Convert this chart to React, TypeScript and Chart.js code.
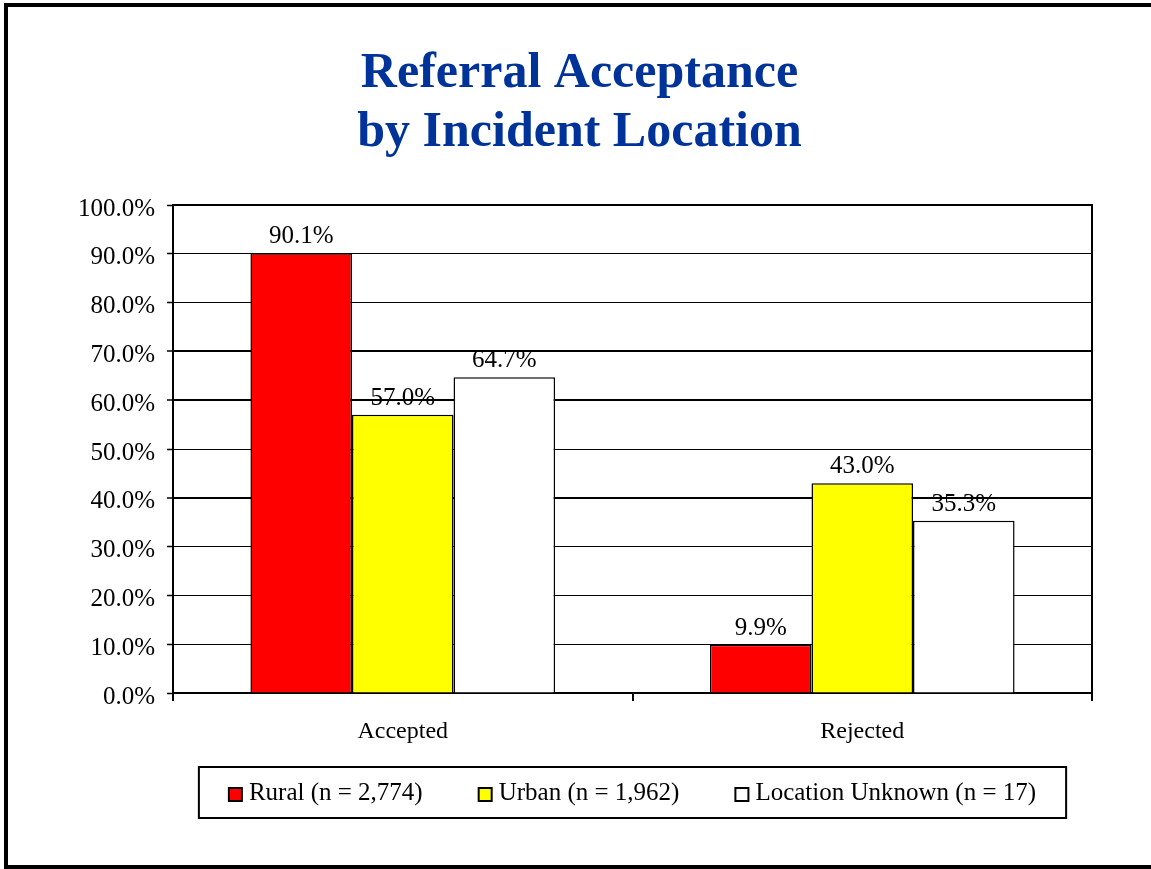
import React, { useEffect, useRef } from "react";
import { Chart, registerables } from "chart.js";

Chart.register(...registerables);

const titleLines = ["Referral Acceptance", "by Incident Location"];
const categories = ["Accepted", "Rejected"];
const seriesNames = ["Rural (n = 2,774)", "Urban (n = 1,962)", "Location Unknown (n = 17)"];
const ruralValues = [90.1, 9.9];
const urbanValues = [57.0, 43.0];
const unknownValues = [64.7, 35.3];
const seriesColors = ["#FF0000", "#FFFF00", "#FFFFFF"];
const yMin = 0;
const yMax = 100;
const yStep = 10;
const thickGridValues = [40, 60, 70];

const FONT = "'Liberation Serif', 'Times New Roman', Times, serif";

const framePlugin = {
  id: "frame",
  beforeDraw(chart: any) {
    const ctx = chart.ctx;
    ctx.save();
    ctx.fillStyle = "#FFFFFF";
    ctx.fillRect(0, 0, chart.width, chart.height);
    ctx.fillStyle = "#000000";
    ctx.fillRect(4, 3, 4, 866);
    ctx.fillRect(4, 3, chart.width, 4);
    ctx.fillRect(4, 865, chart.width, 4);
    ctx.restore();
  },
};

const plotBoxPlugin = {
  id: "plotBox",
  afterDraw(chart: any) {
    const { ctx, chartArea } = chart;
    ctx.save();
    ctx.strokeStyle = "#000000";
    ctx.lineWidth = 2;
    ctx.beginPath();
    ctx.moveTo(chartArea.left, chartArea.top);
    ctx.lineTo(chartArea.right, chartArea.top);
    ctx.lineTo(chartArea.right, chartArea.bottom + 8);
    ctx.stroke();
    ctx.restore();
  },
};

const dataLabelPlugin = {
  id: "dataLabels",
  afterDatasetsDraw(chart: any) {
    const ctx = chart.ctx;
    ctx.save();
    ctx.font = `25px ${FONT}`;
    ctx.fillStyle = "#000000";
    ctx.textAlign = "center";
    ctx.textBaseline = "alphabetic";
    chart.data.datasets.forEach((ds: any, i: number) => {
      const meta = chart.getDatasetMeta(i);
      meta.data.forEach((el: any, j: number) => {
        const v = ds.data[j] as number;
        ctx.fillText(v.toFixed(1) + "%", el.x, el.y - 10);
      });
    });
    ctx.restore();
  },
};

const boxLegendPlugin = {
  id: "boxLegend",
  afterDraw(chart: any) {
    const { ctx, chartArea } = chart;
    ctx.save();
    ctx.font = `25px ${FONT}`;
    const sq = 13;
    const gapSqText = 7;
    const itemGap = 56;
    const widths = chart.data.datasets.map((ds: any) => ctx.measureText(ds.label).width);
    const total =
      widths.reduce((a: number, w: number) => a + sq + gapSqText + w, 0) + itemGap * (widths.length - 1);
    const cx = (chartArea.left + chartArea.right) / 2;
    const boxW = total + 60;
    const boxTop = chartArea.bottom + 74;
    const boxH = 51;
    ctx.strokeStyle = "#000000";
    ctx.lineWidth = 2;
    ctx.strokeRect(cx - boxW / 2, boxTop, boxW, boxH);
    const cy = boxTop + boxH / 2 + 1;
    let x = cx - total / 2;
    chart.data.datasets.forEach((ds: any, i: number) => {
      ctx.fillStyle = ds.backgroundColor;
      ctx.fillRect(x, cy - sq / 2 + 1, sq, sq);
      ctx.lineWidth = 2;
      ctx.strokeStyle = "#000000";
      ctx.strokeRect(x, cy - sq / 2 + 1, sq, sq);
      ctx.fillStyle = "#000000";
      ctx.textAlign = "left";
      ctx.textBaseline = "middle";
      ctx.fillText(ds.label, x + sq + gapSqText, cy);
      x += sq + gapSqText + widths[i] + itemGap;
    });
    ctx.restore();
  },
};

export default function App() {
  const canvasRef = useRef<HTMLCanvasElement | null>(null);

  useEffect(() => {
    if (!canvasRef.current) return;
    const valueSets = [ruralValues, urbanValues, unknownValues];
    const chart = new Chart(canvasRef.current, {
      type: "bar",
      data: {
        labels: categories,
        datasets: seriesNames.map((name, i) => ({
          label: name,
          data: valueSets[i],
          backgroundColor: seriesColors[i],
          borderColor: "#000000",
          borderWidth: 1.5,
          categoryPercentage: 0.663,
          barPercentage: 1,
        })),
      },
      options: {
        responsive: false,
        animation: false,
        layout: { padding: { left: 8, right: 0, top: 0, bottom: 0 } },
        plugins: {
          legend: { display: false },
          tooltip: { enabled: false },
          title: {
            display: true,
            text: titleLines,
            color: "#003399",
            font: { family: FONT, size: 50, weight: "bold", lineHeight: "59px" },
            padding: { top: 45, bottom: 42 },
          },
        },
        scales: {
          x: {
            afterFit: (scale: any) => {
              scale.height = 176;
            },
            grid: {
              offset: true,
              drawOnChartArea: false,
              drawTicks: true,
              tickLength: 8,
              color: "#000000",
              lineWidth: 2,
            },
            border: { display: true, color: "#000000", width: 2 },
            ticks: {
              color: "#000000",
              font: { family: FONT, size: 24 },
              padding: 16,
            },
          },
          y: {
            min: yMin,
            max: yMax,
            afterFit: (scale: any) => {
              scale.width = 165;
            },
            grid: {
              color: "#000000",
              lineWidth: (c: any) => (thickGridValues.includes(c.tick?.value) ? 2 : 1),
              tickWidth: 1.5,
              tickLength: 6,
              drawTicks: true,
            },
            border: { display: true, color: "#000000", width: 2 },
            ticks: {
              stepSize: yStep,
              color: "#000000",
              font: { family: FONT, size: 25 },
              padding: 12,
              labelOffset: 4,
              callback: (v: any) => Number(v).toFixed(1) + "%",
            },
          },
          yRightSpace: {
            position: "right",
            display: true,
            afterFit: (scale: any) => {
              scale.width = 59;
            },
            grid: { display: false, drawOnChartArea: false },
            border: { display: false },
            ticks: { display: false },
          },
        },
      },
      plugins: [framePlugin, plotBoxPlugin, dataLabelPlugin, boxLegendPlugin],
    } as any);
    return () => chart.destroy();
  }, []);

  return (
    <div style={{ position: "absolute", left: 0, top: 0, width: 1151, height: 869, background: "#fff" }}>
      <canvas ref={canvasRef} width={1151} height={869} style={{ display: "block" }} />
    </div>
  );
}
